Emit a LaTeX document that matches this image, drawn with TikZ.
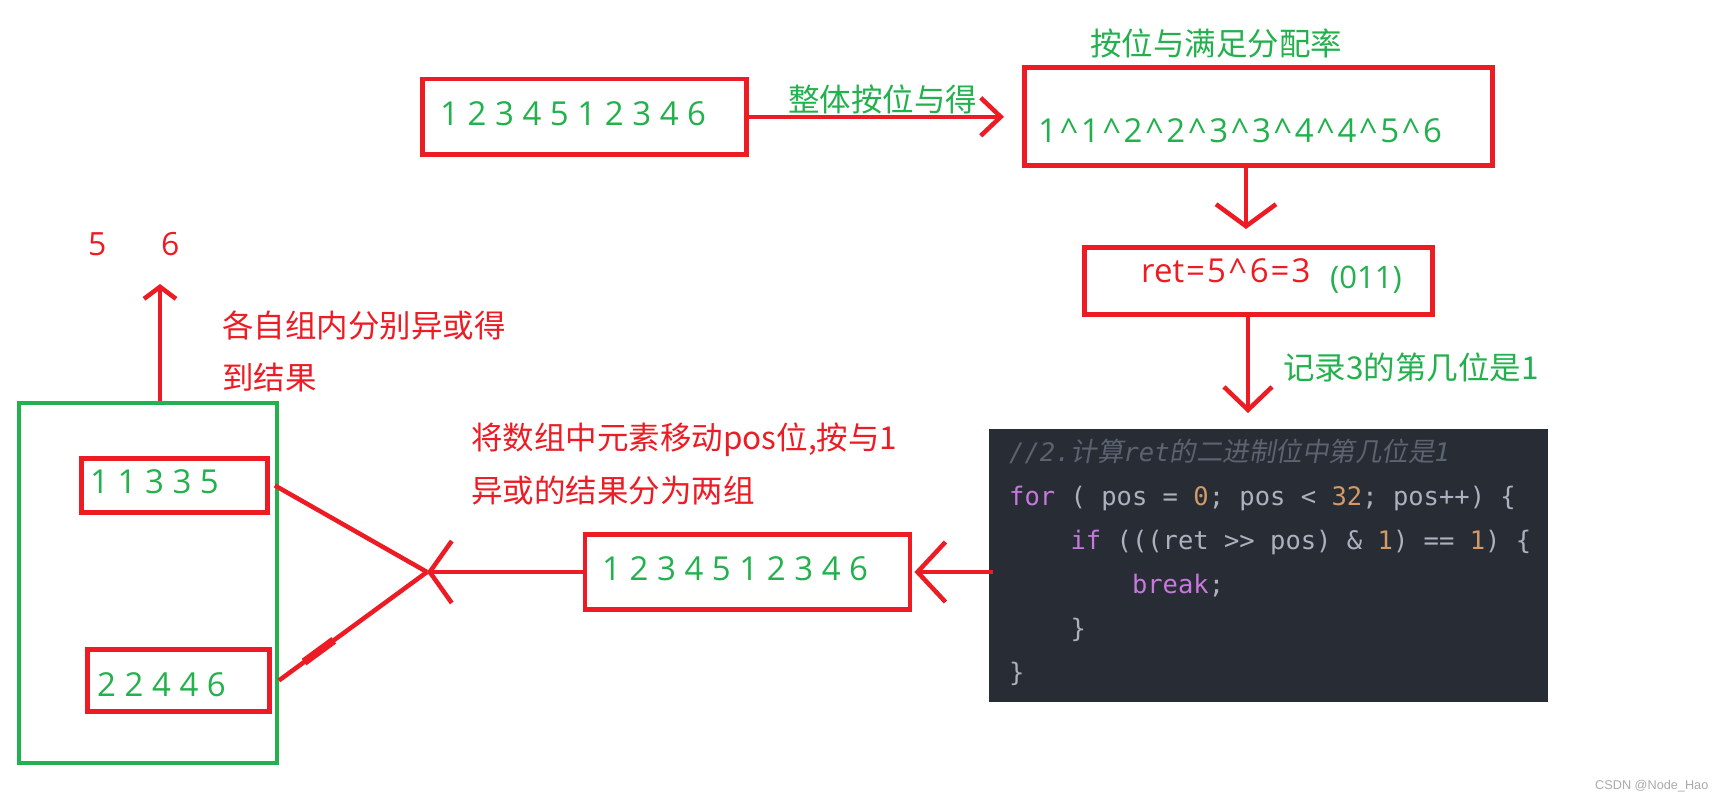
\documentclass[tikz,border=0pt]{standalone}
\usepackage{fontspec}
\setmainfont{Open Sans}
\setmonofont{DejaVu Sans Mono}
\newfontfamily\cjk{Noto Sans CJK SC}
\newfontfamily\cjkslant{Noto Sans CJK SC}[FakeSlant=0.18]
\newfontfamily\wmfont{Liberation Sans}
\usetikzlibrary{arrows.meta,calc}
\definecolor{pred}{HTML}{ED1C24}
\definecolor{pgreen}{HTML}{22B14C}
\definecolor{codebg}{HTML}{282C34}
\definecolor{codefg}{HTML}{ABB2BF}
\definecolor{codekw}{HTML}{C678DD}
\definecolor{codenum}{HTML}{D19A66}
\definecolor{codecm}{HTML}{5C6370}
\definecolor{wmgray}{HTML}{AAAAAA}
\newcommand\crt{\kern3pt\textasciicircum\kern3pt}
\newcommand\eqk{\kern2pt=\kern2pt}
\begin{document}
\begin{tikzpicture}[x=1pt,y=-1pt,
  rbox/.style={draw=pred,line width=4.8pt,inner sep=0pt},
  gbox/.style={draw=pgreen,line width=4.2pt,inner sep=0pt},
  conn/.style={draw=pred,line width=4.5pt},
  txt/.style={inner sep=0pt,anchor=base west},
  numg/.style={txt,text=pgreen,font=\fontsize{33}{40}\selectfont},
  numr/.style={txt,text=pred,font=\fontsize{32}{40}\selectfont},
  cjkg/.style={txt,text=pgreen,font=\cjk\fontsize{31.5}{38}\selectfont},
  cjkr/.style={txt,text=pred,font=\cjk\fontsize{31.5}{38}\selectfont},
  codeline/.style={txt,text=codefg,font=\ttfamily\fontsize{25.5}{30}\selectfont}]
\fill[white] (0,0) rectangle (1724,801);
\useasboundingbox (0,0) rectangle (1724,801);

% boxes
\node[rbox,minimum width=324.5pt,minimum height=75.5pt] (b1) at (584.5,116.8) {};
\node[rbox,minimum width=468pt,minimum height=98pt] (b2) at (1258.5,116.5) {};
\node[rbox,minimum width=348pt,minimum height=67pt] (ret) at (1258.5,281) {};
\node[fill=codebg,inner sep=0pt,minimum width=559pt,minimum height=273pt] (code) at (1268.5,565.5) {};
\node[rbox,minimum width=325pt,minimum height=75pt] (mid) at (747.5,572) {};
\node[gbox,minimum width=258pt,minimum height=360pt] (g) at (148,583) {};
\node[rbox,minimum width=186pt,minimum height=54pt] (top) at (174.5,485.5) {};
\node[rbox,minimum width=182pt,minimum height=62pt] (bot) at (178.5,680.5) {};

% texts in boxes
\node[numg] (t-b1) at (440,125) {1 2 3 4 5 1 2 3 4 6};
\node[numg] (t-b2) at (1038,142) {1\crt1\crt2\crt2\crt3\crt3\crt4\crt4\crt5\crt6};
\node[numr,font=\fontsize{33}{40}\selectfont] (t-ret) at (1141,282) {ret\eqk5\crt6\eqk3};
\node[txt,text=pgreen,font=\fontsize{31}{38}\selectfont] (t-bin) at (1330,288) {(011)};
\node[numg] (t-mid) at (602,580) {1 2 3 4 5 1 2 3 4 6};
\node[numg] (t-top) at (90,493.5) {1 1 3 3 5};
\node[numg] (t-bot) at (97,696.5) {2 2 4 4 6};
\node[numr] (t-5) at (88,255.5) {5};
\node[numr] (t-6) at (161,255.5) {6};

% labels
\node[cjkg] (l1) at (788,111) {整体按位与得};
\node[cjkg] (l2) at (1090,55) {按位与满足分配率};
\node[cjkg] (l3) at (1283,379) {记录3的第几位是1};
\node[cjkr] (l4) at (471,449) {将数组中元素移动pos位,按与1};
\node[cjkr] (l5) at (471,502) {异或的结果分为两组};
\node[cjkr] (l6) at (222,337) {各自组内分别异或得};
\node[cjkr] (l7) at (222,389) {到结果};

% code
\node[codeline] (c1) at (1009,461) {\itshape\color{codecm}//2.{\cjkslant\fontsize{26.5}{30}\selectfont 计算}ret{\cjkslant\fontsize{26.5}{30}\selectfont 的二进制位中第几位是}1};
\node[codeline] (c2) at (1009,505) {\textcolor{codekw}{for} ( pos = \textcolor{codenum}{0}; pos < \textcolor{codenum}{32}; pos++) \{};
\node[codeline] (c3) at (1070.4,549) {\textcolor{codekw}{if} (((ret >> pos) \& \textcolor{codenum}{1}) == \textcolor{codenum}{1}) \{};
\node[codeline] (c4) at (1131.8,593) {\textcolor{codekw}{break};};
\node[codeline] (c5) at (1070.4,637) {\}};
\node[codeline] (c6) at (1009,681) {\}};

% watermark
\node[txt,text=wmgray,font=\wmfont\fontsize{12.7}{15}\selectfont] (wm) at (1595,789.5) {CSDN @Node\_Hao};

% connectors
\coordinate (a1) at (1004,116.8);
\coordinate (a2) at (1246,229);
\coordinate (a3) at (1248,413);
\coordinate (X) at (427,572);
\coordinate (a5) at (160,284);
\draw[conn,-{Straight Barb[length=20pt,width=38pt]}] (b1.east) -- (a1);
\draw[conn,-{Straight Barb[length=22pt,width=60pt]}] (a2 |- b2.south) -- (a2);
\draw[conn,-{Straight Barb[length=23pt,width=48pt]}] (a3 |- ret.south) -- (a3);
\draw[conn,-{Straight Barb[length=28pt,width=60pt]}] ([xshift=4pt]code.west |- mid.east) -- ([xshift=2pt]mid.east);
\draw[conn,-{Straight Barb[length=22pt,width=62pt]}] (mid.west) -- (X);
\draw[conn] ([xshift=5pt]top.east) -- (X);
\draw[conn] ([xshift=7pt]bot.east) -- (X);
\draw[pred,line width=8pt] ($([xshift=7pt]bot.east)!0.17!(X)$) -- ($([xshift=7pt]bot.east)!0.37!(X)$);
\draw[conn,-{Straight Barb[length=12pt,width=32pt]}] ([xshift=12pt]g.north) -- (a5);
\end{tikzpicture}
\end{document}
